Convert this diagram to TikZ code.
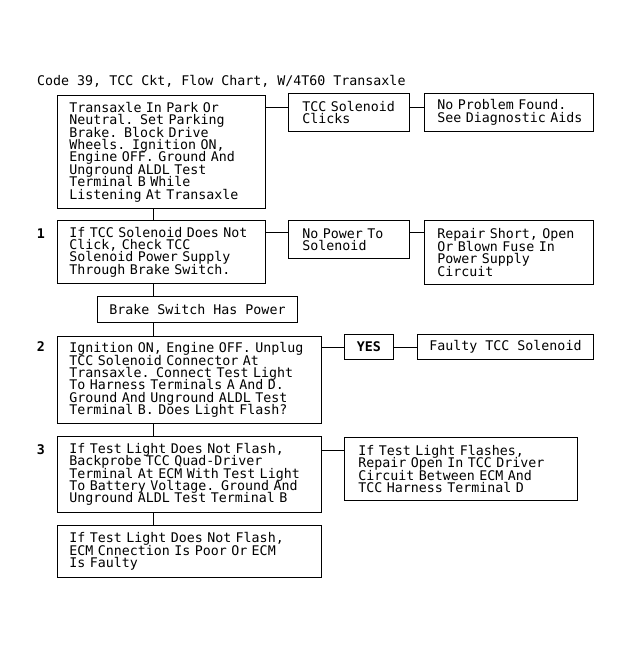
\documentclass[tikz,border=0pt]{standalone}
\usepackage{fontspec}
\newfontfamily\chartfont{DejaVu Sans Mono}
\usepackage{tikz}
\usetikzlibrary{positioning}
\tikzset{
	chartbox/.style={draw, line width=0.9pt, anchor=north west, inner xsep=0pt, inner ysep=0pt, align=left,
		execute at begin node={\leftskip=#1\lineskiplimit=-20pt}},
	chartbox/.default=12pt,
	centerbox/.style={draw, line width=0.9pt, anchor=north west, inner sep=0pt, align=center},
	stepnum/.style={anchor=base, font=\chartfont\bfseries\fontsize{13.3}{12.4}\selectfont},
	link/.style={line width=0.9pt}
}

\begin{document}
\begin{tikzpicture}[x=1pt, y=-1pt, font=\chartfont\fontsize{13.3}{12.4}\selectfont]
		%%%%% START %%%%%
		\useasboundingbox (0, 0) rectangle (631, 652);
		
		\node[anchor=base west, inner sep=0pt] (title) at (37, 86) {Code 39, TCC Ckt, Flow Chart, W/4T60 Transaxle};
		
		\node[chartbox, text width=208pt, minimum height=113pt] (park) at (57, 95) {Transaxle In Park Or\\Neutral. Set Parking\\Brake. Block Drive\\Wheels. Ignition ON,\\Engine OFF. Ground And\\Unground ALDL Test\\Terminal B While\\Listening At Transaxle};
		\node[chartbox=14pt, text width=121pt, minimum height=38pt] (clicks) at (288, 93) {TCC Solenoid\\Clicks};
		\node[chartbox=13pt, text width=169pt, minimum height=38pt] (noproblem) at (424, 93) {No Problem Found.\\See Diagnostic Aids};
		
		\node[stepnum] (num1) at (41, 238) {1};
		\node[chartbox, text width=208pt, minimum height=63pt] (checkpower) at (57, 220) {If TCC Solenoid Does Not\\Click, Check TCC\\Solenoid Power Supply\\Through Brake Switch.};
		\node[chartbox=14pt, text width=121pt, minimum height=38pt] (nopower) at (288, 220) {No Power To\\Solenoid};
		\node[chartbox=13pt, text width=169pt, minimum height=64pt] (repair) at (424, 220) {Repair Short, Open\\Or Blown Fuse In\\Power Supply\\Circuit};
		
		\node[centerbox, minimum width=200pt, minimum height=26pt] (brake) at (97, 296) {Brake Switch Has Power};
		
		\node[stepnum] (num2) at (41, 351) {2};
		\node[chartbox, text width=264pt, minimum height=87pt] (unplug) at (57, 336) {Ignition ON, Engine OFF. Unplug\\TCC Solenoid Connector At\\Transaxle. Connect Test Light\\To Harness Terminals A And D.\\Ground And Unground ALDL Test\\Terminal B. Does Light Flash?};
		\node[centerbox, minimum width=49pt, minimum height=25pt] (yes) at (344, 334) {\textbf{YES}};
		\node[centerbox, minimum width=176pt, minimum height=25pt] (faulty) at (417, 334) {Faulty TCC Solenoid};
		
		\node[stepnum] (num3) at (41, 454) {3};
		\node[chartbox, text width=264pt, minimum height=76pt] (backprobe) at (57, 436) {If Test Light Does Not Flash,\\Backprobe TCC Quad-Driver\\Terminal At ECM With Test Light\\To Battery Voltage. Ground And\\Unground ALDL Test Terminal B};
		\node[chartbox=14pt, text width=233pt, minimum height=63pt] (flashes) at (344, 437) {If Test Light Flashes,\\Repair Open In TCC Driver\\Circuit Between ECM And\\TCC Harness Terminal D};
		
		\node[chartbox, text width=264pt, minimum height=52pt] (ecm) at (57, 525) {If Test Light Does Not Flash,\\ECM Cnnection Is Poor Or ECM\\Is Faulty};
		
		% main column
		\coordinate (col) at (153, 0);
		\draw[link] (park.south -| col) -- (checkpower.north -| col);
		\draw[link] (checkpower.south -| col) -- (brake.north -| col);
		\draw[link] (brake.south -| col) -- (unplug.north -| col);
		\draw[link] (unplug.south -| col) -- (backprobe.north -| col);
		\draw[link] (backprobe.south -| col) -- (ecm.north -| col);
		
		% side branches
		\coordinate (row1) at ([yshift=-12pt]park.north east);
		\draw[link] (row1) -- (row1 -| clicks.west) (row1 -| clicks.east) -- (row1 -| noproblem.west);
		\coordinate (row2) at ([yshift=-12pt]checkpower.north east);
		\draw[link] (row2) -- (row2 -| nopower.west) (row2 -| nopower.east) -- (row2 -| repair.west);
		\coordinate (row3) at ([yshift=-11pt]unplug.north east);
		\draw[link] (row3) -- (row3 -| yes.west) (row3 -| yes.east) -- (row3 -| faulty.west);
		\coordinate (row4) at ([yshift=-14pt]backprobe.north east);
		\draw[link] (row4) -- (row4 -| flashes.west);
		
		%%%%% END %%%%%
	\end{tikzpicture}
\end{document}
